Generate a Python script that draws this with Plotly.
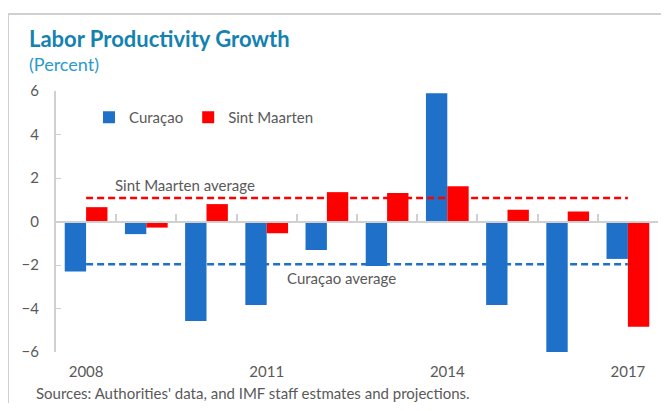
import plotly.graph_objects as go

years = ["2008", "2009", "2010", "2011", "2012", "2013", "2014", "2015", "2016", "2017"]
curacao = [-2.3, -0.58, -4.58, -3.84, -1.31, -2.05, 5.9, -3.84, -6.0, -1.72]
sint_maarten = [0.66, -0.28, 0.8, -0.54, 1.35, 1.31, 1.62, 0.54, 0.46, -4.84]
curacao_avg = -1.97
sint_maarten_avg = 1.08
tick_labels = ["2008", "2011", "2014", "2017"]
y_ticks = [-6, -4, -2, 0, 2, 4, 6]

BLUE = "#1f70c8"
RED = "#ff0000"
GRAY = "#595959"
LINE = "#d0d0d0"
FONT = "Lato"

# page body has an 8px margin; layout below is given in screen pixels
OFF = 8
W, H = 669 - 2 * OFF, 411 - 2 * OFF
PL, PR, PT, PB = 56, 658, 91, 352  # plot area in screen pixels
L, T = PL - OFF, PT - OFF
R, B = W - (PR - OFF), H - (PB - OFF)
pw, ph = PR - PL, PB - PT

def px(x):
    return (x - PL) / pw

def py(y):
    return (PB - y) / ph

fig = go.Figure()
fig.add_trace(go.Bar(x=years, y=curacao, name="Curaçao", marker=dict(color=BLUE, line=dict(width=0))))
fig.add_trace(go.Bar(x=years, y=sint_maarten, name="Sint Maarten", marker=dict(color=RED, line=dict(width=0))))

idx = [0, len(years) - 1]
fig.add_trace(go.Scatter(x=idx, y=[sint_maarten_avg] * 2, xaxis="x2", mode="lines",
                         line=dict(color=RED, width=2.5, dash="7px,4px"), showlegend=False, hoverinfo="skip"))
fig.add_trace(go.Scatter(x=idx, y=[curacao_avg] * 2, xaxis="x2", mode="lines",
                         line=dict(color=BLUE, width=2.5, dash="7px,4px"), showlegend=False, hoverinfo="skip"))

fig.update_layout(
    width=W, height=H,
    margin=dict(l=L, r=R, t=T, b=B, autoexpand=False),
    plot_bgcolor="white", paper_bgcolor="white",
    barmode="group", bargap=0.29, bargroupgap=0,
    font=dict(family=FONT, color=GRAY, size=15),
    xaxis=dict(type="category", tickmode="array", tickvals=tick_labels, ticktext=tick_labels,
               showline=False, ticks="", showgrid=False, zeroline=False, ticklabelstandoff=9,
               tickfont=dict(size=15, color=GRAY), range=[-0.5, len(years) - 0.5]),
    xaxis2=dict(overlaying="x", anchor="free", position=0.5, range=[-0.5, len(years) - 0.5],
                tickmode="array", tickvals=[i - 0.5 for i in range(len(years) + 1)],
                ticks="inside", ticklen=7, tickwidth=1.5, tickcolor=LINE,
                showline=True, linecolor=LINE, linewidth=2, showticklabels=False,
                showgrid=False, zeroline=False),
    yaxis=dict(range=[-6, 6], tickmode="array", tickvals=y_ticks, showline=True, linecolor=LINE,
               linewidth=2, ticks="inside", ticklen=5, tickcolor=LINE, showgrid=False,
               zeroline=False, ticklabelstandoff=12, tickfont=dict(size=15, color=GRAY)),
    legend=dict(orientation="h", x=px(89), y=py(101), xanchor="left", yanchor="top",
                font=dict(size=15, color=GRAY), bgcolor="rgba(0,0,0,0)", itemwidth=30,
                traceorder="normal"),
    showlegend=True,
)

fig.add_shape(type="rect", xref="paper", yref="paper", x0=px(8), x1=px(720), y0=py(460), y1=py(14),
              line=dict(color=LINE, width=2), fillcolor="rgba(0,0,0,0)", layer="below")

annotations = [
    dict(text="<b>Labor Productivity Growth</b>", x=px(27), y=py(38), size=22, color="#1382b1"),
    dict(text="(Percent)", x=px(27), y=py(64), size=18, color="#2b9ac8"),
    dict(text="Sint Maarten average", x=px(113), y=py(185), size=15, color=GRAY),
    dict(text="Curaçao average", x=px(285), y=py(278), size=15, color=GRAY),
    dict(text="Sources: Authorities' data, and IMF staff estmates and projections.", x=px(34), y=py(393),
         size=15, color=GRAY),
]
for a in annotations:
    fig.add_annotation(text=a["text"], x=a["x"], y=a["y"], xref="paper", yref="paper",
                       xanchor="left", yanchor="middle", showarrow=False,
                       font=dict(family=FONT, size=a["size"], color=a["color"]))

fig.write_html("out.html")
